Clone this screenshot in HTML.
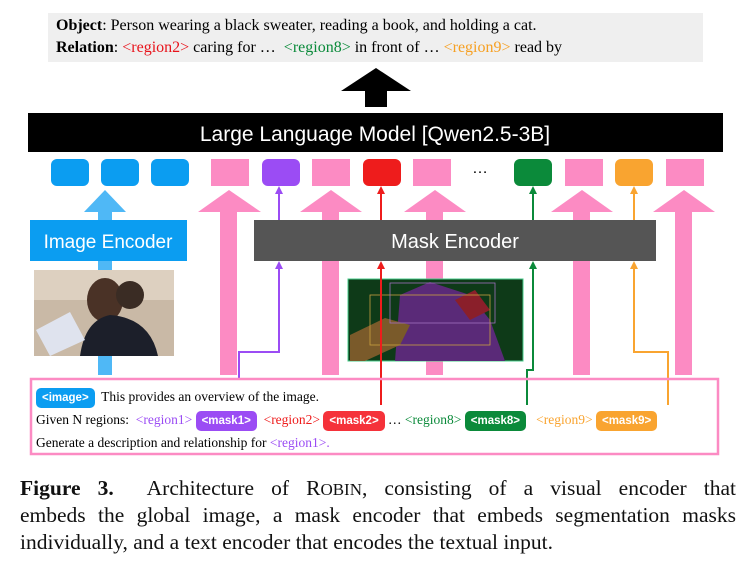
<!DOCTYPE html>
<html><head><meta charset="utf-8"><style>
body{margin:0;width:751px;height:578px;background:#fff;position:relative;overflow:hidden;font-family:"Liberation Serif",serif}
.a{position:absolute}
.tok{position:absolute;top:159px;width:38px;height:27px}
.r{border-radius:6px}
.pill{display:inline-block;color:#fff;font-family:"Liberation Sans",sans-serif;font-size:11.5px;font-weight:bold;padding:3px 6px;border-radius:5px;line-height:14px}
.cap{position:absolute;left:20px;width:716px;font-size:21.5px;line-height:27px;text-align:justify;text-align-last:justify;color:#111}
</style></head><body>
<div class="a" style="left:48px;top:13px;width:655px;height:49px;background:#efefef"></div>
<div class="a" style="left:56px;top:15px;font-size:16px;line-height:22px;white-space:nowrap"><b>Object</b>: Person wearing a black sweater, reading a book, and holding a cat.<br><b>Relation</b>: <span style="color:#e8131b">&lt;region2&gt;</span> caring for …&nbsp; <span style="color:#0a8a3a">&lt;region8&gt;</span> in front of … <span style="color:#f6a023">&lt;region9&gt;</span> read by</div>
<svg class="a" style="left:0;top:0" width="751" height="470">
<polygon points="341,91 376,68 411,91 387,91 387,107 365,107 365,91" fill="#000"/>
<rect x="28" y="113" width="695" height="39" fill="#000"/>
<text x="375" y="141" fill="#fff" font-family="Liberation Sans" font-size="21" text-anchor="middle">Large Language Model [Qwen2.5-3B]</text>
<!-- blue arrow -->
<rect x="98" y="210" width="14" height="165" fill="#4fb8f6"/>
<polygon points="84,212 105,190 126,212" fill="#4fb8f6"/>
<!-- pink arrows -->
<g fill="#fc8bc3">
<rect x="220" y="210" width="17" height="165"/><polygon points="198,212 229,190 261,212"/>
<rect x="322" y="210" width="17" height="165"/><polygon points="300,212 331,190 362,212"/>
<rect x="426" y="210" width="17" height="165"/><polygon points="404,212 435,190 466,212"/>
<rect x="573" y="210" width="17" height="165"/><polygon points="551,212 582,190 613,212"/>
<rect x="675" y="210" width="17" height="165"/><polygon points="653,212 684,190 715,212"/>
</g>
<rect x="254" y="220" width="402" height="41" fill="#555"/>
<text x="455" y="248" fill="#fff" font-family="Liberation Sans" font-size="20" text-anchor="middle">Mask Encoder</text>
<rect x="30" y="220" width="157" height="41" fill="#0b9df1"/>
<text x="108" y="248" fill="#fff" font-family="Liberation Sans" font-size="19" text-anchor="middle">Image Encoder</text>
<!-- photo -->
<rect x="34" y="270" width="140" height="86" fill="#c9b9a6"/>
<rect x="34" y="270" width="140" height="30" fill="#ddd0c0"/>
<ellipse cx="105" cy="300" rx="18" ry="22" fill="#4a3226"/>
<ellipse cx="130" cy="295" rx="14" ry="14" fill="#3a2c24"/>
<path d="M80 356 Q85 320 110 315 Q150 318 158 356Z" fill="#1c1f2a"/>
<polygon points="36,330 70,312 85,340 50,356" fill="#dfe3ee"/>
<!-- mask image -->
<rect x="348" y="279" width="175" height="82" fill="#0e3a18" stroke="#4c8" stroke-width="1"/>
<path d="M395 361 L400 295 L430 282 L470 295 L490 320 L505 361Z" fill="#5a2a78"/>
<path d="M350 335 L385 318 L410 325 L400 345 L365 361 L350 361Z" fill="#7a5a2a"/>
<polygon points="455,300 475,290 490,310 470,320" fill="#8a1f2a"/>
<rect x="370" y="295" width="120" height="50" fill="none" stroke="#c9a040" stroke-width="0.8"/>
<rect x="390" y="283" width="105" height="40" fill="none" stroke="#a070c0" stroke-width="0.8"/>
<!-- thin lines -->
<g fill="none" stroke-width="2">
<path d="M239 380 L239 352 L279 352 L279 266" stroke="#9b4cf4"/>
<path d="M279 220 L279 192" stroke="#9b4cf4"/>
<path d="M381 405 L381 266" stroke="#ee1c1c"/>
<path d="M381 220 L381 192" stroke="#ee1c1c"/>
<path d="M527 405 L527 370 L533 370 L533 266" stroke="#0b8a3a"/>
<path d="M533 220 L533 192" stroke="#0b8a3a"/>
<path d="M668 405 L668 352 L634 352 L634 266" stroke="#f9a430"/>
<path d="M634 220 L634 192" stroke="#f9a430"/>
</g>
<g>
<polygon points="275,269 279,261 283,269" fill="#9b4cf4"/><polygon points="275,194 279,186 283,194" fill="#9b4cf4"/>
<polygon points="377,269 381,261 385,269" fill="#ee1c1c"/><polygon points="377,194 381,186 385,194" fill="#ee1c1c"/>
<polygon points="529,269 533,261 537,269" fill="#0b8a3a"/><polygon points="529,194 533,186 537,194" fill="#0b8a3a"/>
<polygon points="630,269 634,261 638,269" fill="#f9a430"/><polygon points="630,194 634,186 638,194" fill="#f9a430"/>
</g>
<rect x="31" y="379" width="687" height="75" fill="none" stroke="#fc8bc3" stroke-width="2.5"/>
</svg>
<div class="tok r" style="left:51px;background:#0b9df1"></div>
<div class="tok r" style="left:101px;background:#0b9df1"></div>
<div class="tok r" style="left:151px;background:#0b9df1"></div>
<div class="tok" style="left:211px;background:#fc8bc3"></div>
<div class="tok r" style="left:262px;background:#9b4cf4"></div>
<div class="tok" style="left:312px;background:#fc8bc3"></div>
<div class="tok r" style="left:363px;background:#ee1c1c"></div>
<div class="tok" style="left:413px;background:#fc8bc3"></div>
<div class="a" style="left:472px;top:160px;font-family:'Liberation Sans';font-size:16px">…</div>
<div class="tok r" style="left:514px;background:#0b8a3a"></div>
<div class="tok" style="left:565px;background:#fc8bc3"></div>
<div class="tok r" style="left:615px;background:#f9a430"></div>
<div class="tok" style="left:666px;background:#fc8bc3"></div>
<div class="a" style="left:36px;top:385px;font-size:13.5px;line-height:23px;white-space:nowrap">
<span class="pill" style="background:#0b9df1">&lt;image&gt;</span>&nbsp; This provides an overview of the image.<br>
Given N regions:&nbsp; <span style="color:#9b4cf4">&lt;region1&gt;</span> <span class="pill" style="background:#9b4cf4">&lt;mask1&gt;</span>&nbsp; <span style="color:#ee1c1c">&lt;region2&gt;</span> <span class="pill" style="background:#f5323a">&lt;mask2&gt;</span> … <span style="color:#0b8a3a">&lt;region8&gt;</span> <span class="pill" style="background:#0b8a3a">&lt;mask8&gt;</span>&nbsp;&nbsp; <span style="color:#f9a430">&lt;region9&gt;</span> <span class="pill" style="background:#f9a430">&lt;mask9&gt;</span><br>
Generate a description and relationship for <span style="color:#9b4cf4">&lt;region1&gt;.</span></div>
<div class="cap" style="top:475px"><b>Figure 3.</b>&nbsp; Architecture of R<span style="font-size:17px">OBIN</span>, consisting of a visual encoder that</div>
<div class="cap" style="top:502px">embeds the global image, a mask encoder that embeds segmentation masks</div>
<div class="cap" style="top:529px;text-align-last:left">individually, and a text encoder that encodes the textual input.</div>
</body></html>
